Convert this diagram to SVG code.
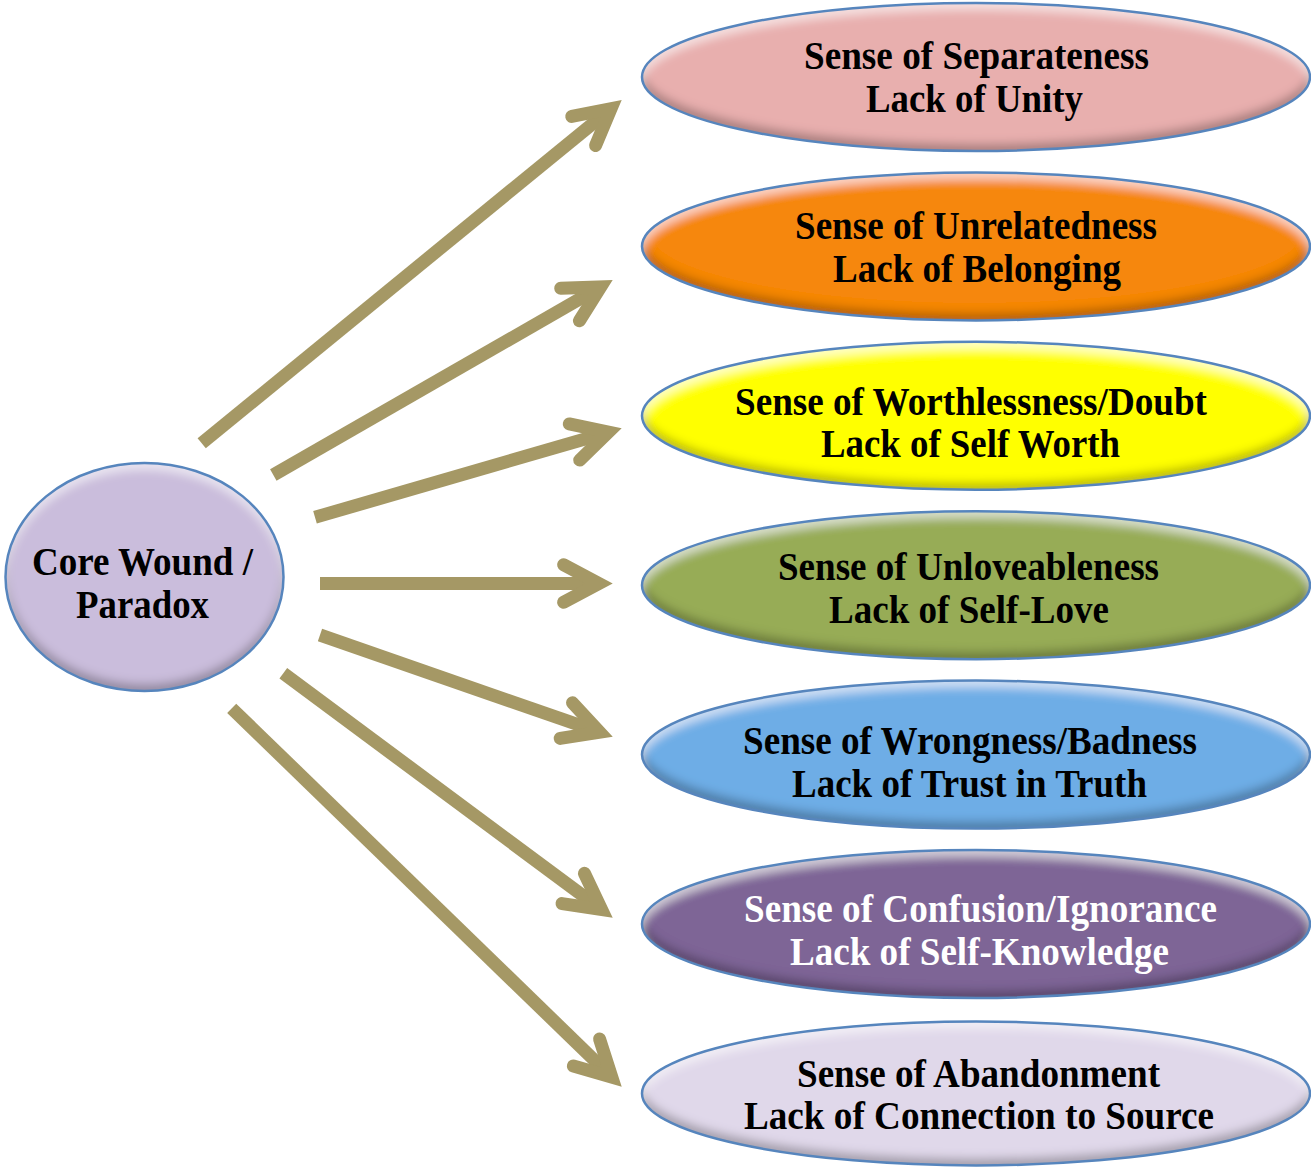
<svg xmlns="http://www.w3.org/2000/svg" width="1311" height="1168" viewBox="0 0 1311 1168">
  <defs>
    <style>
      .lbl { font-family: "Liberation Serif", "Times New Roman", serif; font-weight: bold; font-size: 39px; text-anchor: middle; fill: #000; }
      .lbl.light { fill: #fff; }
      .rim { fill: none; stroke: #5685BD; stroke-width: 2.5; }
      .link { fill: none; stroke: #A59865; stroke-width: 13; stroke-linecap: butt; marker-end: url(#head); }
    </style>
    <!-- open chevron arrowhead; vertex sits at the path end -->
    <marker id="head" markerUnits="userSpaceOnUse" orient="auto" refX="0" refY="0" markerWidth="1" markerHeight="1" overflow="visible">
      <path d="M -35.3 -18.8 L 0 0 L -35.3 18.8" fill="none" stroke="#A59865" stroke-width="13" stroke-linecap="round" stroke-linejoin="miter"/>
    </marker>
    <!-- soft bevel: light inner rim on top, dark inner rim on bottom -->
    <filter id="bevel" x="-5%" y="-10%" width="110%" height="120%">
      <feGaussianBlur in="SourceAlpha" stdDeviation="5" result="blur"/>
      <feOffset in="blur" dy="-7" result="up"/>
      <feComposite in="SourceAlpha" in2="up" operator="out" result="lowEdge"/>
      <feFlood flood-color="#000" flood-opacity="0.5"/>
      <feComposite in2="lowEdge" operator="in" result="shade"/>
      <feOffset in="blur" dy="7" result="down"/>
      <feComposite in="SourceAlpha" in2="down" operator="out" result="topEdge"/>
      <feFlood flood-color="#fff" flood-opacity="0.55"/>
      <feComposite in2="topEdge" operator="in" result="light"/>
      <feMerge>
        <feMergeNode in="SourceGraphic"/>
        <feMergeNode in="shade"/>
        <feMergeNode in="light"/>
      </feMerge>
    </filter>
  </defs>

  <rect width="1311" height="1168" fill="#fff"/>

  <!-- connectors -->
  <g id="connectors">
    <line class="link" x1="201.7" y1="443.3" x2="611.0" y2="108.7"/>
    <line class="link" x1="273.3" y1="475.0" x2="600.7" y2="286.9"/>
    <line class="link" x1="315.0" y1="517.3" x2="608.4" y2="432.2"/>
    <line class="link" x1="320.0" y1="583.5" x2="598.9" y2="583.5"/>
    <line class="link" x1="320.0" y1="635.0" x2="599.7" y2="732.2"/>
    <line class="link" x1="283.3" y1="673.3" x2="601.6" y2="909.5"/>
    <line class="link" x1="231.7" y1="708.3" x2="611.8" y2="1077.1"/>
  </g>

  <!-- central node -->
  <g id="core">
    <ellipse cx="144.5" cy="577" rx="139" ry="114" fill="#CABDDC" filter="url(#bevel)"/>
    <ellipse class="rim" cx="144.5" cy="577" rx="139" ry="114"/>
    <text class="lbl" x="142.5" y="575" textLength="221" lengthAdjust="spacingAndGlyphs">Core Wound /</text>
    <text class="lbl" x="142.5" y="618" textLength="133" lengthAdjust="spacingAndGlyphs">Paradox</text>
  </g>

  <g id="separateness">
    <ellipse cx="976" cy="77" rx="334" ry="74" fill="#E8AFAE" filter="url(#bevel)"/>
    <ellipse class="rim" cx="976" cy="77" rx="334" ry="74"/>
    <text class="lbl" x="976.5" y="69" textLength="345" lengthAdjust="spacingAndGlyphs">Sense of Separateness</text>
    <text class="lbl" x="974.5" y="112" textLength="217" lengthAdjust="spacingAndGlyphs">Lack of Unity</text>
  </g>

  <g id="unrelatedness">
    <ellipse cx="976" cy="246.4" rx="334" ry="74" fill="#F6870F" filter="url(#bevel)"/>
    <ellipse class="rim" cx="976" cy="246.4" rx="334" ry="74"/>
    <text class="lbl" x="976" y="239" textLength="362" lengthAdjust="spacingAndGlyphs">Sense of Unrelatedness</text>
    <text class="lbl" x="977" y="282" textLength="288" lengthAdjust="spacingAndGlyphs">Lack of Belonging</text>
  </g>

  <g id="worthlessness">
    <ellipse cx="976" cy="415.8" rx="334" ry="74" fill="#FFFF00" filter="url(#bevel)"/>
    <ellipse class="rim" cx="976" cy="415.8" rx="334" ry="74"/>
    <text class="lbl" x="971" y="415" textLength="472" lengthAdjust="spacingAndGlyphs">Sense of Worthlessness/Doubt</text>
    <text class="lbl" x="970.5" y="457" textLength="299" lengthAdjust="spacingAndGlyphs">Lack of Self Worth</text>
  </g>

  <g id="unloveableness">
    <ellipse cx="976" cy="585.2" rx="334" ry="74" fill="#97AC56" filter="url(#bevel)"/>
    <ellipse class="rim" cx="976" cy="585.2" rx="334" ry="74"/>
    <text class="lbl" x="968.5" y="580" textLength="381" lengthAdjust="spacingAndGlyphs">Sense of Unloveableness</text>
    <text class="lbl" x="969" y="623" textLength="280" lengthAdjust="spacingAndGlyphs">Lack of Self-Love</text>
  </g>

  <g id="wrongness">
    <ellipse cx="976" cy="754.6" rx="334" ry="74" fill="#6EADE6" filter="url(#bevel)"/>
    <ellipse class="rim" cx="976" cy="754.6" rx="334" ry="74"/>
    <text class="lbl" x="970" y="754" textLength="454" lengthAdjust="spacingAndGlyphs">Sense of Wrongness/Badness</text>
    <text class="lbl" x="969.5" y="797" textLength="355" lengthAdjust="spacingAndGlyphs">Lack of Trust in Truth</text>
  </g>

  <g id="confusion">
    <ellipse cx="976" cy="924" rx="334" ry="74" fill="#7E6596" filter="url(#bevel)"/>
    <ellipse class="rim" cx="976" cy="924" rx="334" ry="74"/>
    <text class="lbl light" x="980.5" y="922" textLength="473" lengthAdjust="spacingAndGlyphs">Sense of Confusion/Ignorance</text>
    <text class="lbl light" x="979.5" y="965" textLength="379" lengthAdjust="spacingAndGlyphs">Lack of Self-Knowledge</text>
  </g>

  <g id="abandonment">
    <ellipse cx="976" cy="1093.4" rx="334" ry="72" fill="#E0D8EA" filter="url(#bevel)"/>
    <ellipse class="rim" cx="976" cy="1093.4" rx="334" ry="72"/>
    <text class="lbl" x="978.5" y="1087" textLength="363" lengthAdjust="spacingAndGlyphs">Sense of Abandonment</text>
    <text class="lbl" x="979" y="1129" textLength="470" lengthAdjust="spacingAndGlyphs">Lack of Connection to Source</text>
  </g>
</svg>
